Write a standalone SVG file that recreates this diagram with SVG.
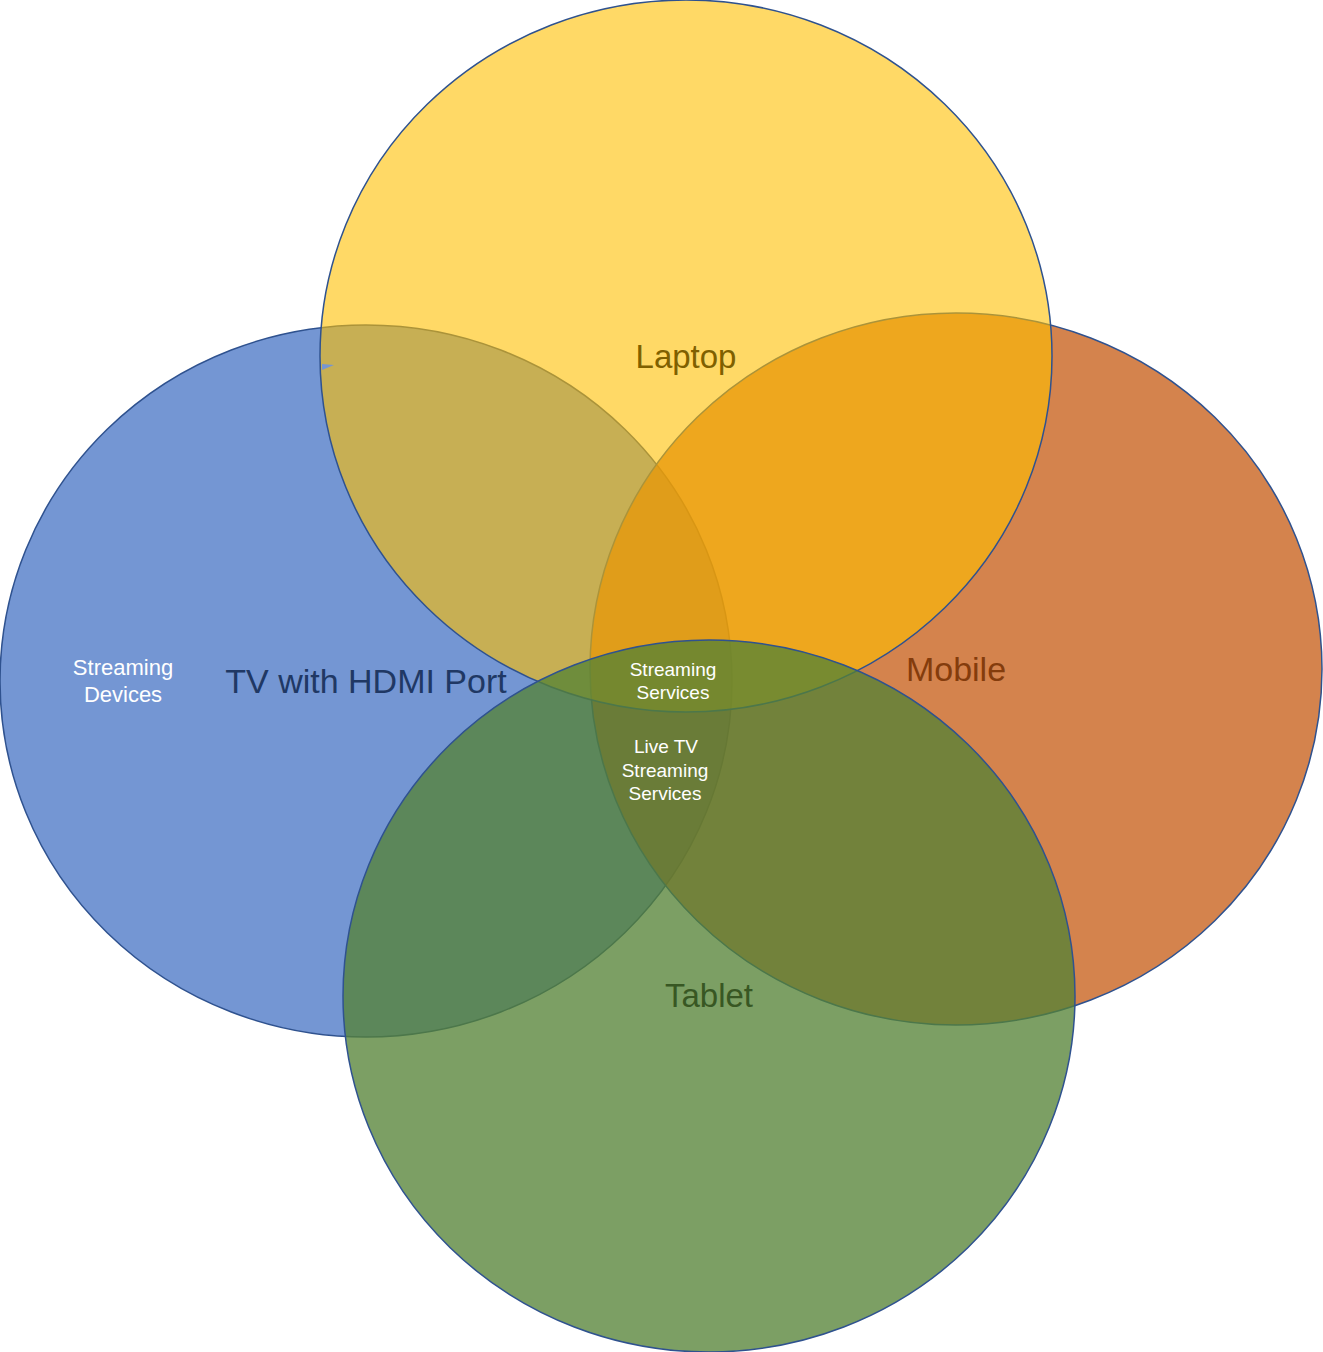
<svg xmlns="http://www.w3.org/2000/svg" width="1323" height="1352" viewBox="0 0 1323 1352">
<style>
.c{stroke:#2F528F;stroke-width:1.5}
.lbl{font-family:"Liberation Sans",Arial,sans-serif;text-anchor:middle}
.big{font-size:33px}
.sm{font-size:19px;fill:#FFFFFF}
.md{font-size:22px;fill:#FFFFFF}
</style>
<rect width="1323" height="1352" fill="#FFFFFF"/>
<g id="node-tv">
<ellipse class="c" cx="366" cy="681" rx="366" ry="356" fill="#4472C4" fill-opacity="0.74"/>
<text class="lbl big" x="366" y="693" fill="#203864" style="font-size:34px">TV with HDMI Port</text>
<text class="lbl md" x="123" y="675">Streaming</text>
<text class="lbl md" x="123" y="702">Devices</text>
</g>
<g id="node-mobile">
<ellipse class="c" cx="956" cy="669" rx="366" ry="356" fill="#C55A11" fill-opacity="0.75"/>
<text class="lbl big" x="956" y="681" fill="#843C0C" style="font-size:34px">Mobile</text>
</g>
<g id="node-laptop">
<ellipse class="c" cx="686" cy="356" rx="366" ry="356" fill="#FFC000" fill-opacity="0.6"/>
<text class="lbl big" x="686" y="368" fill="#7F6000">Laptop</text>
</g>
<g id="node-tablet">
<ellipse class="c" cx="709" cy="996" rx="366" ry="356" fill="#548235" fill-opacity="0.77"/>
<text class="lbl big" x="709" y="1007" fill="#385723">Tablet</text>
</g>
<g id="overlap-streaming-services">
<text class="lbl sm" x="673" y="676">Streaming</text>
<text class="lbl sm" x="673" y="699">Services</text>
</g>
<g id="overlap-live-tv">
<text class="lbl sm" x="666" y="753">Live TV</text>
<text class="lbl sm" x="665" y="777">Streaming</text>
<text class="lbl sm" x="665" y="800">Services</text>
</g>
<g id="artifact">
<path d="M322,364 L334,365 L322,370 Z" fill="#7796D2"/>
</g>
<g id="connectors"></g>
</svg>
